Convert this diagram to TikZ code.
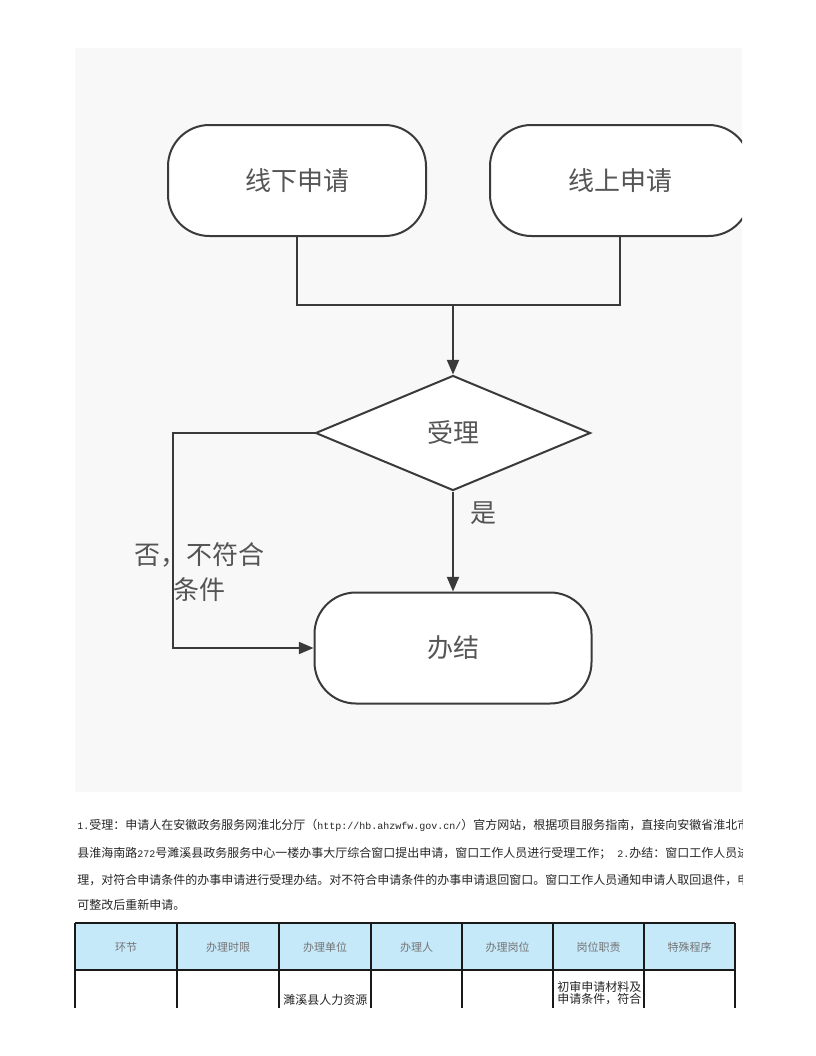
\documentclass[tikz,border=0pt]{standalone}
\usepackage{fontspec}
\setmainfont{Noto Sans CJK SC}
\newfontfamily\hwfont{Liberation Mono}
\newcommand\hwt[1]{{\hwfont\fontsize{7.5pt}{10pt}\selectfont #1}}
\usetikzlibrary{shapes.geometric,arrows.meta}
\definecolor{panelbg}{RGB}{248,248,248}
\definecolor{linec}{RGB}{58,58,58}
\definecolor{txtc}{RGB}{85,85,85}
\definecolor{hdrblue}{RGB}{198,233,250}
\tikzset{
  term/.style={draw=linec, line width=1.5pt, fill=white, rounded corners=31pt,
    minimum height=83.25pt, inner sep=0pt, text=txtc,
    font=\fontsize{19.5pt}{24pt}\selectfont},
  dec/.style={diamond, draw=linec, line width=1.5pt, fill=white,
    minimum width=206.25pt, minimum height=86.25pt, inner sep=0pt, text=txtc,
    font=\fontsize{19.5pt}{24pt}\selectfont},
  flow/.style={draw=linec, line width=1.5pt},
  arr/.style={flow, -{Triangle[length=11pt,width=9pt]}},
  lbl/.style={text=txtc, inner sep=0pt, font=\fontsize{19.5pt}{26pt}\selectfont, align=center},
  para/.style={anchor=west, inner sep=0pt, text=black!85, font=\fontsize{9pt}{10pt}\selectfont},
  hdr/.style={inner sep=0pt, text=black!55, font=\fontsize{8.25pt}{10pt}\selectfont},
  cell/.style={anchor=west, inner sep=0pt, text=black!85, font=\fontsize{9pt}{9pt}\selectfont},
  grid/.style={draw=black!90, line width=1.1pt}
}
\begin{document}
\begin{tikzpicture}[x=0.75pt,y=-0.75pt]
\useasboundingbox (0,0) rectangle (816,1056);
\fill[white] (0,0) rectangle (816,1056);
% ---------- flowchart panel ----------
\begin{scope}
  \clip (75,48) rectangle (742,792);
  \fill[panelbg] (75,48) rectangle (742,792);
  \node[term, minimum width=193.5pt] (off) at (297,180.5) {线下申请};
  \node[term, minimum width=195pt] (on) at (620,180.5) {线上申请};
  \node[dec] (acc) at (453,433) {受理};
  \node[term, minimum width=207.75pt] (done) at (453,648) {办结};
  \coordinate (join) at (453,305);
  \coordinate (nl) at (173,433);
  \coordinate (nb) at (173,648);
  \draw[flow] (off.south) |- (join);
  \draw[flow] (on.south) |- (join);
  \draw[arr] (join) -- (acc.north);
  \draw[arr] (acc.south) -- (done.north);
  \draw[arr] (acc.west) -- (nl) -- (nb) -- (done.west);
  \node[lbl] (yes) at (483,513) {是};
  \node[lbl] (no) at (199,572) {否，不符合\\条件};
\end{scope}
% ---------- paragraph ----------
\begin{scope}
  \clip (0,805) rectangle (742,915);
  \node[para] (p1) at (77,825) {\hwt{1.}受理：申请人在安徽政务服务网淮北分厅（\hwt{http://hb.ahzwfw.gov.cn/}）官方网站，根据项目服务指南，直接向安徽省淮北市濉溪};
  \node[para] (p2) at (77,853) {县淮海南路\hwt{272}号濉溪县政务服务中心一楼办事大厅综合窗口提出申请，窗口工作人员进行受理工作；\hwt{ 2.}办结：窗口工作人员进行审};
  \node[para] (p3) at (77,880) {理，对符合申请条件的办事申请进行受理办结。对不符合申请条件的办事申请退回窗口。窗口工作人员通知申请人取回退件，申请人};
  \node[para] (p4) at (77,905) {可整改后重新申请。};
\end{scope}
% ---------- table ----------
\fill[hdrblue] (75,923) rectangle (735,970);
\draw[grid] (75,923) -- (735,923);
\draw[grid] (75,970) -- (735,970);
\foreach \cx in {75,177,279,371,462,553,644,735} {
  \draw[grid] (\cx,923) -- (\cx,1008);
}
\node[hdr] (h1) at (126,947) {环节};
\node[hdr] (h2) at (228,947) {办理时限};
\node[hdr] (h3) at (325,947) {办理单位};
\node[hdr] (h4) at (416.5,947) {办理人};
\node[hdr] (h5) at (507.5,947) {办理岗位};
\node[hdr] (h6) at (598.5,947) {岗位职责};
\node[hdr] (h7) at (689.5,947) {特殊程序};
\begin{scope}
  \clip (0,970) rectangle (816,1008);
  \node[cell] (c1) at (283,1000) {濉溪县人力资源};
  \node[cell] (c2) at (557,987) {初审申请材料及};
  \node[cell] (c3) at (557,999) {申请条件，符合};
\end{scope}
\end{tikzpicture}
\end{document}
